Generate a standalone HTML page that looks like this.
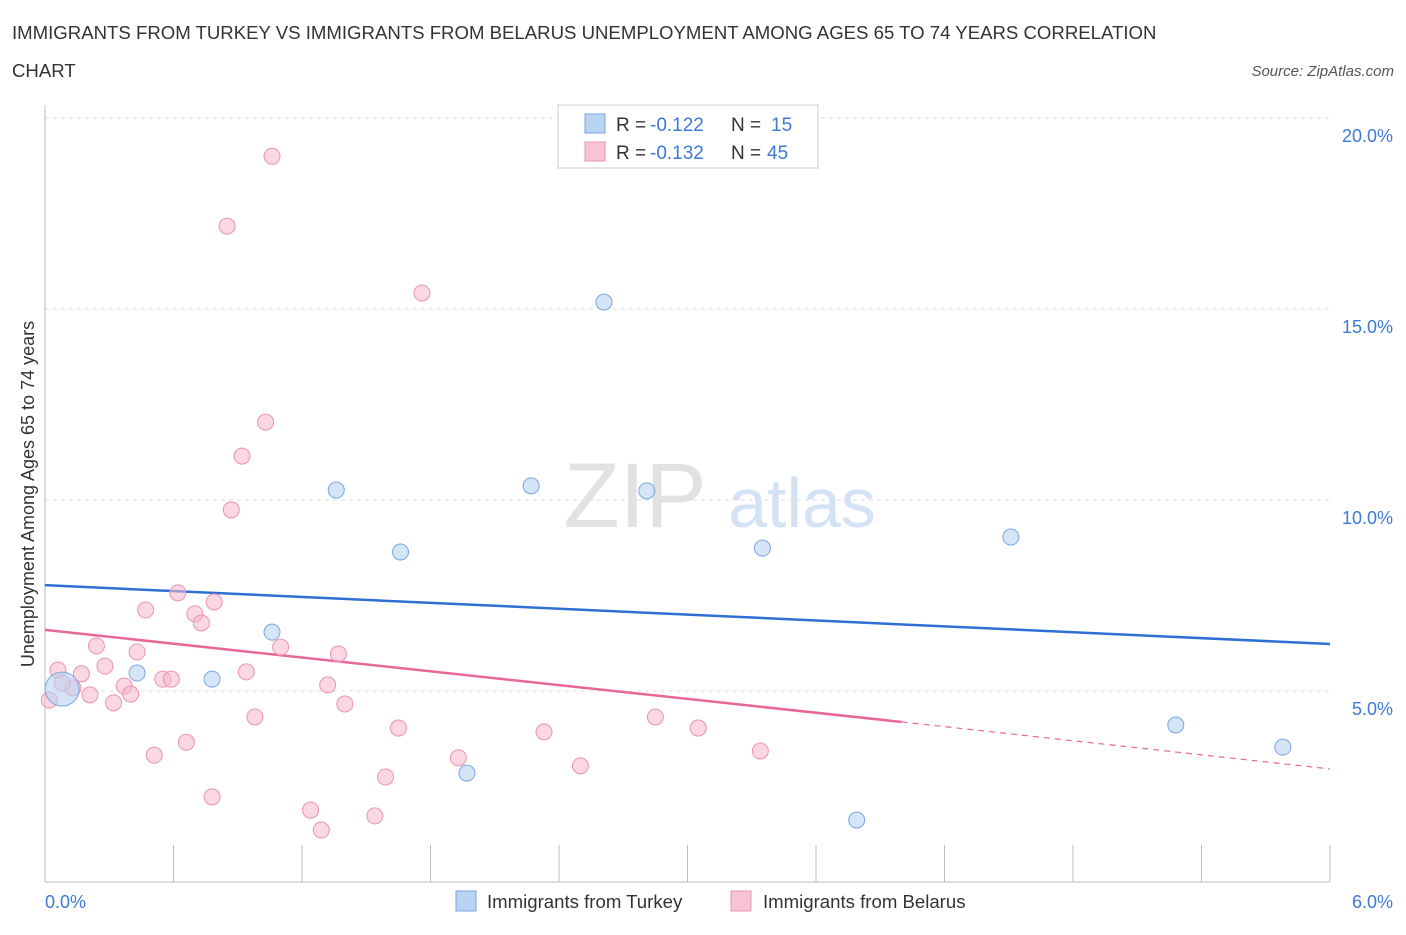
<!DOCTYPE html>
<html><head><meta charset="utf-8"><style>
body{margin:0;background:#fff;font-family:"Liberation Sans",sans-serif;}
svg text{font-family:"Liberation Sans",sans-serif;}
</style></head><body>
<svg id="chart" width="1406" height="930">
<text x="12" y="39" font-size="18.6" fill="#333">IMMIGRANTS FROM TURKEY VS IMMIGRANTS FROM BELARUS UNEMPLOYMENT AMONG AGES 65 TO 74 YEARS CORRELATION</text>
<text x="12" y="77" font-size="18.6" fill="#333">CHART</text>
<text x="1394" y="76" font-size="15" fill="#555" font-style="italic" text-anchor="end">Source: ZipAtlas.com</text>
<text x="635" y="527" font-size="92" fill="#e2e2e2" font-family="Liberation Serif" text-anchor="middle">ZIP</text>
<text x="802" y="527" font-size="70" fill="#d3e2f5" text-anchor="middle">atlas</text>
<g id="grid"></g><g id="axes"></g><g id="lines"></g><g id="pts"></g>
<text transform="translate(34,494) rotate(-90)" font-size="18" fill="#333" text-anchor="middle">Unemployment Among Ages 65 to 74 years</text>
<text x="45" y="908" font-size="18" fill="#3d7ad6">0.0%</text>
<text x="1393" y="908" font-size="18" fill="#3d7ad6" text-anchor="end">6.0%</text>
<g>
<rect x="558" y="105" width="260" height="63" fill="#fff" stroke="#ccc"/>
<rect x="585" y="114" width="20" height="19" fill="#b9d3f3" stroke="#7aa6e0"/>
<rect x="585" y="142" width="20" height="19" fill="#f8c4d4" stroke="#e994b1"/>
<text x="616" y="131" font-size="19" fill="#333">R =</text>
<text x="650" y="131" font-size="19" fill="#3d7ad6">-0.122</text>
<text x="731" y="131" font-size="19" fill="#333">N =</text>
<text x="771" y="131" font-size="19" fill="#3d7ad6">15</text>
<text x="616" y="159" font-size="19" fill="#333">R =</text>
<text x="650" y="159" font-size="19" fill="#3d7ad6">-0.132</text>
<text x="731" y="159" font-size="19" fill="#333">N =</text>
<text x="767" y="159" font-size="19" fill="#3d7ad6">45</text>
</g>
<g>
<rect x="456" y="891" width="20" height="20" fill="#b9d3f3" stroke="#7aa6e0"/>
<text x="487" y="908" font-size="18.6" fill="#333">Immigrants from Turkey</text>
<rect x="731" y="891" width="20" height="20" fill="#f8c4d4" stroke="#e994b1"/>
<text x="763" y="908" font-size="18.6" fill="#333">Immigrants from Belarus</text>
</g>
</svg>
<script>
const yTicks=[5,10,15,20];
const yTickLabels=["5.0%","10.0%","15.0%","20.0%"];
const turkeyX=[2.61,1.36,2.27,2.81,1.66,3.35,4.51,1.06,0.43,0.78,1.97,5.28,5.78,3.79,0.08];
const turkeyY=[15.18,10.26,10.37,10.24,8.64,8.74,9.03,6.54,5.47,5.31,2.85,4.11,3.53,1.62,5.05];
const belarusX=[1.06,0.85,1.76,1.03,0.92,0.87,0.62,0.47,0.79,0.70,0.73,0.24,0.43,1.10,1.37,0.06,0.17,0.28,0.55,0.59,0.94,0.37,0.40,0.21,0.32,0.13,1.32,1.40,0.98,1.65,2.33,2.85,3.05,0.66,0.51,1.93,3.34,1.59,2.50,0.78,1.24,1.54,1.29,0.02,0.08];
const belarusY=[19.0,17.17,15.42,12.04,11.15,9.74,7.57,7.12,7.33,7.02,6.78,6.18,6.02,6.15,5.97,5.55,5.45,5.65,5.31,5.31,5.50,5.13,4.92,4.90,4.69,5.08,5.16,4.66,4.32,4.03,3.93,4.32,4.03,3.66,3.32,3.25,3.43,2.75,3.04,2.23,1.88,1.73,1.36,4.76,5.21];
const turkeyTrend=[7.77,6.23];
const belarusTrend=[6.60,4.19,2.96];
const belarusSolidEnd=4.0;
const NS="http://www.w3.org/2000/svg";
const X=v=>45+v/6*1285, Y=v=>882-v*38.2;
function mk(tag,attrs,parent){const e=document.createElementNS(NS,tag);for(const k in attrs)e.setAttribute(k,attrs[k]);document.getElementById(parent).appendChild(e);return e;}
yTicks.forEach((t,i)=>{
 const l=mk('line',{x1:45,x2:1330,y1:Y(t),y2:Y(t),stroke:'#ddd','stroke-dasharray':'4,4'},'grid');
 
 
 const tx=mk('text',{x:1393,y:Y(t)+24,'font-size':18,fill:'#3d7ad6','text-anchor':'end'},'grid');
 tx.textContent=yTickLabels[i];
 
 
});
const topLine=mk('line',{x1:45,x2:1330,y1:118,y2:118,stroke:'#ddd','stroke-dasharray':'4,4'},'grid');


const ya=mk('line',{x1:45,x2:45,y1:105,y2:882,stroke:'#bbb'},'axes');


const xa=mk('line',{x1:45,x2:1330,y1:882,y2:882,stroke:'#bbb'},'axes');


for(let i=0;i<=10;i++){const v=i*0.6;
 const t=mk('line',{x1:X(v),x2:X(v),y1:845,y2:882,stroke:'#bbb'},'axes');
 
 
}
const tl=mk('line',{x1:X(0),y1:Y(turkeyTrend[0]),x2:X(6),y2:Y(turkeyTrend[1]),stroke:'#2e6fd4','stroke-width':2.5},'lines');


const bl=mk('line',{x1:X(0),y1:Y(belarusTrend[0]),x2:X(belarusSolidEnd),y2:Y(belarusTrend[1]),stroke:'#e8679a','stroke-width':2.5},'lines');


const bd=mk('line',{x1:X(belarusSolidEnd),y1:Y(belarusTrend[1]),x2:X(6),y2:Y(belarusTrend[2]),stroke:'#e8679a','stroke-width':1.2,'stroke-dasharray':'6,5'},'lines');


belarusX.forEach((x,i)=>{
 const c=mk('circle',{cx:X(x),cy:Y(belarusY[i]),r:8,fill:'rgba(246,183,204,0.55)',stroke:'#e994b1','stroke-width':1},'pts');
 
 
});
turkeyX.forEach((x,i)=>{
 const r=i===turkeyX.length-1?17:8;
 const c=mk('circle',{cx:X(x),cy:Y(turkeyY[i]),r:r,fill:'rgba(185,211,243,0.6)',stroke:'#7aa6e0','stroke-width':1},'pts');
 
 
});
</script>
</body></html>
